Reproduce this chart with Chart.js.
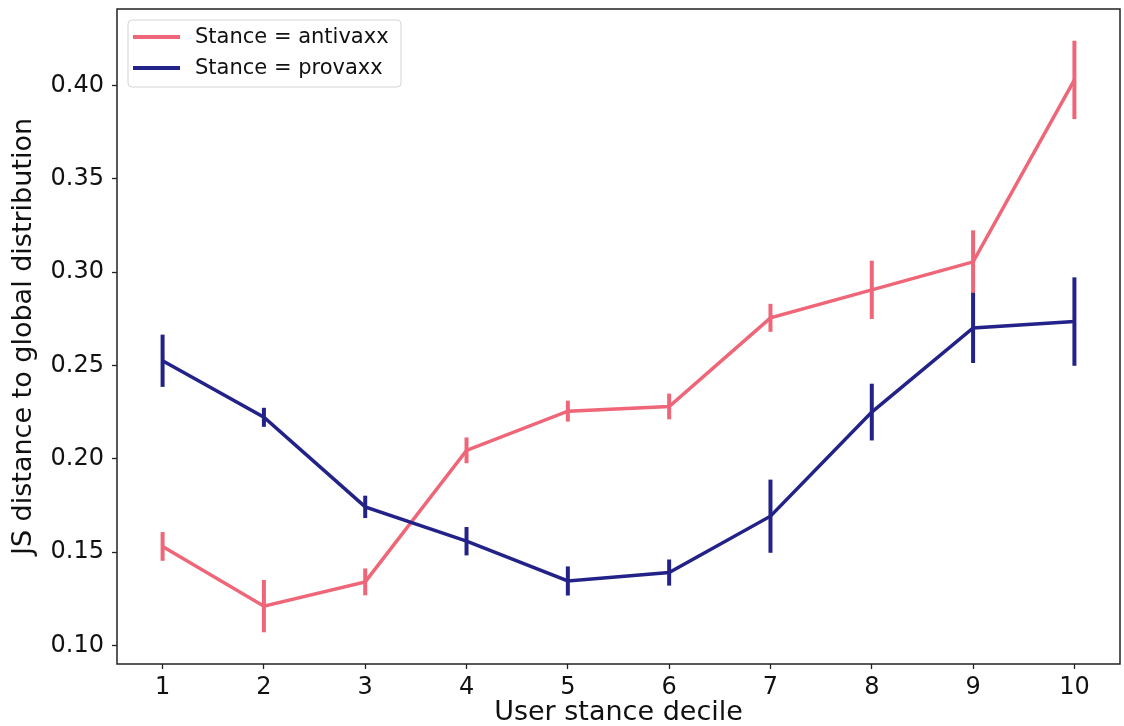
<!DOCTYPE html>
<html>
<head>
<meta charset="utf-8">
<script src="https://cdn.jsdelivr.net/npm/chart.js@4/dist/chart.umd.min.js"></script>
<style>
  html, body { margin: 0; padding: 0; background: #fff; }
  canvas { display: block; }
</style>
</head>
<body>
<canvas id="stanceChart" width="1124" height="726"></canvas>
<script>
// values
const deciles = [1, 2, 3, 4, 5, 6, 7, 8, 9, 10];
const antivaxx = [0.153, 0.121, 0.134, 0.2045, 0.2255, 0.228, 0.2755, 0.2905, 0.3055, 0.403];
const antivaxxErr = [0.0077, 0.014, 0.0072, 0.0069, 0.0056, 0.0069, 0.0075, 0.0156, 0.0169, 0.021];
const provaxx = [0.2525, 0.2222, 0.1742, 0.1558, 0.1345, 0.139, 0.1692, 0.2250, 0.2701, 0.2735];
const provaxxErr = [0.014, 0.0051, 0.006, 0.0076, 0.0078, 0.007, 0.0196, 0.0152, 0.0188, 0.0237];
const yTicks = [0.10, 0.15, 0.20, 0.25, 0.30, 0.35, 0.40];

const PINK = '#ee6677';
const NAVY = '#222288';
const FONT = "'DejaVu Sans', sans-serif";

function points(ys) {
  return deciles.map((x, i) => ({ x: x, y: ys[i] }));
}

// vertical error bars, drawn right after each dataset's line
const errorBars = {
  id: 'errorBars',
  afterDatasetDraw(chart, args) {
    const ds = chart.data.datasets[args.index];
    if (!ds.errors) return;
    const { ctx, chartArea } = chart;
    const xs = chart.scales.x, ys = chart.scales.y;
    ctx.save();
    ctx.beginPath();
    ctx.rect(chartArea.left, chartArea.top, chartArea.width, chartArea.height);
    ctx.clip();
    ctx.strokeStyle = ds.borderColor;
    ctx.lineWidth = 4;
    ctx.lineCap = 'butt';
    ds.data.forEach((p, i) => {
      const px = xs.getPixelForValue(p.x);
      ctx.beginPath();
      ctx.moveTo(px, ys.getPixelForValue(p.y - ds.errors[i]));
      ctx.lineTo(px, ys.getPixelForValue(p.y + ds.errors[i]));
      ctx.stroke();
    });
    ctx.restore();
  }
};

// frame around the axes plus the legend box inside the upper left corner
const frameAndLegend = {
  id: 'frameAndLegend',
  afterDraw(chart) {
    const { ctx, chartArea } = chart;
    ctx.save();
    ctx.strokeStyle = '#222';
    ctx.lineWidth = 1.5;
    ctx.strokeRect(chartArea.left, chartArea.top, chartArea.width, chartArea.height);

    const bx = chartArea.left + 11, by = chartArea.top + 11;
    ctx.beginPath();
    ctx.roundRect(bx, by, 273, 67, 4);
    ctx.fillStyle = 'rgba(255,255,255,0.8)';
    ctx.fill();
    ctx.strokeStyle = '#d4d4d4';
    ctx.lineWidth = 1;
    ctx.stroke();

    const items = [...chart.data.datasets].sort((a, b) => a.legendPos - b.legendPos);
    ctx.font = '21px ' + FONT;
    ctx.textBaseline = 'middle';
    items.forEach((ds, i) => {
      const y = by + 17 + i * 31;
      ctx.beginPath();
      ctx.moveTo(bx + 5, y);
      ctx.lineTo(bx + 52, y);
      ctx.strokeStyle = ds.borderColor;
      ctx.lineWidth = 4;
      ctx.stroke();
      ctx.fillStyle = '#111';
      ctx.fillText(ds.label, bx + 67, y + 1);
    });
    ctx.restore();
  }
};

new Chart(document.getElementById('stanceChart'), {
  type: 'line',
  data: {
    datasets: [
      {
        label: 'Stance = antivaxx',
        data: points(antivaxx),
        errors: antivaxxErr,
        borderColor: PINK,
        borderWidth: 3.5,
        pointRadius: 0,
        tension: 0,
        order: 1,
        legendPos: 0
      },
      {
        label: 'Stance = provaxx',
        data: points(provaxx),
        errors: provaxxErr,
        borderColor: NAVY,
        borderWidth: 3.5,
        pointRadius: 0,
        tension: 0,
        order: 0,
        legendPos: 1
      }
    ]
  },
  options: {
    responsive: false,
    animation: false,
    layout: { padding: { top: 9, right: 4, left: 0, bottom: 0 } },
    plugins: { legend: { display: false }, tooltip: { enabled: false } },
    scales: {
      x: {
        type: 'linear',
        min: 0.55,
        max: 10.45,
        afterFit(scale) {
          scale.height = 62;
          scale.paddingLeft = 0;
          scale.paddingRight = 0;
        },
        afterBuildTicks(scale) { scale.ticks = deciles.map(v => ({ value: v })); },
        grid: { drawOnChartArea: false, drawTicks: true, tickLength: 5, color: '#222', tickWidth: 1.3 },
        border: { display: false },
        ticks: {
          color: '#111',
          padding: 4,
          font: { family: FONT, size: 24 },
          callback: v => String(v)
        },
        title: {
          display: true,
          text: 'User stance decile',
          color: '#111',
          font: { family: FONT, size: 27, lineHeight: 1 },
          padding: { top: 0, bottom: 0 }
        }
      },
      y: {
        min: 0.090,
        max: 0.441,
        afterFit(scale) {
          scale.width = 117;
          scale.paddingTop = 0;
          scale.paddingBottom = 0;
        },
        afterBuildTicks(scale) { scale.ticks = yTicks.map(v => ({ value: v })); },
        grid: { drawOnChartArea: false, drawTicks: true, tickLength: 5, color: '#222', tickWidth: 1.3 },
        border: { display: false },
        ticks: {
          color: '#111',
          padding: 8,
          font: { family: FONT, size: 24 },
          callback: v => v.toFixed(2)
        },
        title: {
          display: true,
          text: 'JS distance to global distribution',
          color: '#111',
          font: { family: FONT, size: 27, lineHeight: 1 },
          padding: { top: 10, bottom: 0 }
        }
      }
    }
  },
  plugins: [errorBars, frameAndLegend]
});
</script>
</body>
</html>
